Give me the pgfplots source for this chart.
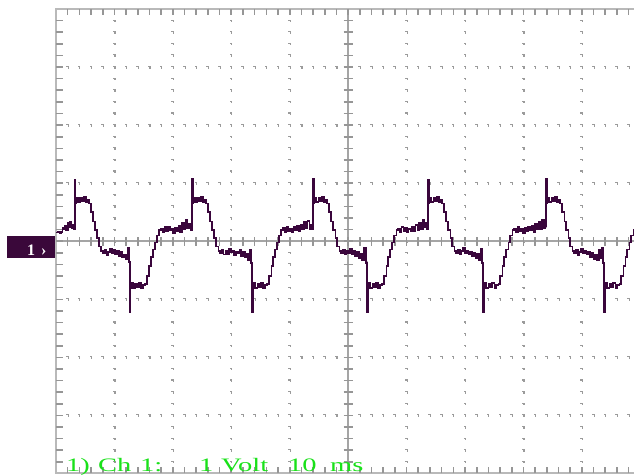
\documentclass[border=0pt]{standalone}
\usepackage{pgfplots}
\usepackage{pgfplotstable}
\pgfplotsset{compat=1.18}
\usepackage{fontspec}
\setmainfont{Liberation Serif}

\definecolor{tracec}{RGB}{58,6,60}
\definecolor{markc}{RGB}{58,8,58}
\definecolor{gridln}{RGB}{185,185,185}
\definecolor{gridax}{RGB}{165,165,165}
\definecolor{gridtk}{RGB}{150,150,150}
\definecolor{griddot}{RGB}{155,155,155}
\definecolor{scopegreen}{RGB}{25,225,25}

% Channel 1 capture: time in ms, voltage in V
\pgfplotstableread{
t v
0.00 0.15
0.30 0.17
0.60 0.14
0.90 0.16
1.10 0.23
1.30 0.20
1.55 0.26
1.75 0.19
2.00 0.31
2.20 0.24
2.45 0.33
2.65 0.22
2.90 0.29
3.10 0.21
3.25 0.24
3.25 1.05
3.35 0.66
3.45 0.75
3.75 0.67
4.15 0.74
4.45 0.69
4.75 0.76
5.15 0.67
5.45 0.72
5.65 0.65
5.95 0.50
6.35 0.34
6.65 0.19
7.05 0.05
7.35 -0.09
7.75 -0.17
8.05 -0.21
8.35 -0.15
8.65 -0.24
8.95 -0.18
9.25 -0.13
9.55 -0.20
9.85 -0.15
10.15 -0.22
10.45 -0.17
10.75 -0.26
11.05 -0.19
11.35 -0.28
11.65 -0.23
11.95 -0.31
12.25 -0.12
12.50 -0.36
12.67 -0.36
12.67 -1.22
12.77 -0.81
12.87 -0.72
13.17 -0.80
13.57 -0.74
13.87 -0.79
14.17 -0.72
14.57 -0.80
14.87 -0.75
15.27 -0.74
15.57 -0.60
15.97 -0.43
16.27 -0.27
16.57 -0.14
16.97 -0.02
17.27 0.10
17.67 0.19
17.97 0.22
18.27 0.15
18.57 0.24
18.87 0.17
19.17 0.25
19.47 0.19
19.77 0.21
20.07 0.14
20.37 0.23
20.67 0.18
20.97 0.27
21.27 0.16
21.57 0.31
21.87 0.20
22.17 0.36
22.47 0.22
22.77 0.30
23.07 0.19
23.29 0.24
23.29 1.07
23.39 0.66
23.49 0.75
23.79 0.67
24.19 0.74
24.49 0.69
24.79 0.76
25.19 0.67
25.49 0.72
25.69 0.65
25.99 0.50
26.39 0.34
26.69 0.19
27.09 0.05
27.39 -0.09
27.79 -0.17
28.09 -0.20
28.39 -0.14
28.69 -0.23
28.99 -0.17
29.29 -0.22
29.59 -0.13
29.89 -0.19
30.19 -0.16
30.49 -0.24
30.79 -0.18
31.09 -0.21
31.39 -0.15
31.69 -0.25
31.99 -0.19
32.29 -0.27
32.59 -0.22
32.89 -0.32
33.19 -0.14
33.40 -0.38
33.56 -0.36
33.56 -1.22
33.66 -0.81
33.76 -0.72
34.06 -0.80
34.46 -0.74
34.76 -0.79
35.06 -0.72
35.46 -0.80
35.76 -0.75
36.16 -0.74
36.46 -0.60
36.86 -0.43
37.16 -0.27
37.46 -0.14
37.86 -0.02
38.16 0.10
38.56 0.19
38.86 0.23
39.16 0.16
39.46 0.25
39.76 0.18
40.06 0.22
40.36 0.15
40.66 0.24
40.96 0.19
41.26 0.26
41.56 0.17
41.86 0.29
42.16 0.20
42.46 0.33
42.76 0.22
43.06 0.35
43.36 0.21
43.66 0.28
43.86 0.20
44.01 0.24
44.01 1.08
44.11 0.66
44.21 0.75
44.51 0.67
44.91 0.74
45.21 0.69
45.51 0.76
45.91 0.67
46.21 0.72
46.41 0.65
46.71 0.50
47.11 0.34
47.41 0.19
47.81 0.05
48.11 -0.09
48.51 -0.17
48.81 -0.21
49.11 -0.14
49.41 -0.23
49.71 -0.16
50.01 -0.20
50.31 -0.13
50.61 -0.22
50.91 -0.17
51.21 -0.25
51.51 -0.18
51.81 -0.29
52.11 -0.21
52.41 -0.33
52.71 -0.12
53.00 -0.37
53.25 -0.35
53.25 -1.22
53.35 -0.81
53.45 -0.72
53.75 -0.80
54.15 -0.74
54.45 -0.79
54.75 -0.72
55.15 -0.80
55.45 -0.75
55.85 -0.74
56.15 -0.60
56.55 -0.43
56.85 -0.27
57.15 -0.14
57.55 -0.02
57.85 0.10
58.25 0.19
58.55 0.22
58.85 0.16
59.15 0.24
59.45 0.18
59.75 0.23
60.05 0.15
60.35 0.21
60.65 0.17
60.95 0.25
61.25 0.18
61.55 0.28
61.85 0.19
62.15 0.32
62.45 0.21
62.75 0.36
63.05 0.24
63.35 0.31
63.55 0.20
63.70 0.25
63.70 1.06
63.80 0.66
63.90 0.75
64.20 0.67
64.60 0.74
64.90 0.69
65.20 0.76
65.60 0.67
65.90 0.72
66.10 0.65
66.40 0.50
66.80 0.34
67.10 0.19
67.50 0.05
67.80 -0.09
68.20 -0.17
68.50 -0.20
68.80 -0.15
69.10 -0.23
69.40 -0.17
69.70 -0.12
70.00 -0.21
70.30 -0.16
70.60 -0.23
70.90 -0.18
71.20 -0.26
71.50 -0.20
71.80 -0.29
72.10 -0.22
72.40 -0.32
72.70 -0.13
72.95 -0.37
73.12 -0.36
73.12 -1.22
73.22 -0.81
73.32 -0.72
73.62 -0.80
74.02 -0.74
74.32 -0.79
74.62 -0.72
75.02 -0.80
75.32 -0.75
75.72 -0.74
76.02 -0.60
76.42 -0.43
76.72 -0.27
77.02 -0.14
77.42 -0.02
77.72 0.10
78.12 0.19
78.42 0.22
78.72 0.15
79.02 0.24
79.32 0.18
79.62 0.21
79.92 0.14
80.22 0.23
80.52 0.17
80.82 0.25
81.12 0.19
81.42 0.27
81.72 0.16
82.02 0.30
82.32 0.21
82.62 0.34
82.92 0.20
83.22 0.37
83.52 0.22
83.75 0.29
83.90 0.24
83.90 1.08
84.00 0.66
84.10 0.75
84.40 0.67
84.80 0.74
85.10 0.69
85.40 0.76
85.80 0.67
86.10 0.72
86.30 0.65
86.60 0.50
87.00 0.34
87.30 0.19
87.70 0.05
88.00 -0.09
88.40 -0.17
88.70 -0.21
89.00 -0.15
89.30 -0.24
89.60 -0.18
89.90 -0.13
90.20 -0.21
90.50 -0.16
90.80 -0.23
91.10 -0.19
91.40 -0.27
91.70 -0.20
92.00 -0.30
92.30 -0.23
92.60 -0.33
92.90 -0.15
93.20 -0.29
93.45 -0.12
93.65 -0.37
93.84 -0.36
93.84 -1.22
93.94 -0.81
94.04 -0.72
94.34 -0.80
94.74 -0.74
95.04 -0.79
95.34 -0.72
95.74 -0.80
96.04 -0.75
96.44 -0.74
96.74 -0.60
97.14 -0.43
97.44 -0.27
97.74 -0.14
98.14 -0.02
98.44 0.10
98.84 0.19
99.14 0.22
99.50 0.16
}\chone

\begin{document}
\begin{tikzpicture}[x=1bp,y=1bp]
% graticule: 10 x 8 divisions, 5 minor steps each
\def\gxl{56}\def\gxr{640.3}\def\gyb{1.5}\def\gyt{466}
\pgfmathsetmacro\gcx{(\gxl+\gxr)/2}
\pgfmathsetmacro\gcy{(\gyb+\gyt)/2}
\pgfmathsetmacro\gdx{(\gxr-\gxl)/50}
\pgfmathsetmacro\gdy{(\gyt-\gyb)/40}

\fill[white] (0,0) rectangle (634,475);

% dotted major divisions (small corner-shaped dots)
\foreach \i in {1,2,3,4,6,7,8,9}{
  \foreach \k in {1,...,39}{
    \fill[griddot] ({\gxl+5*\i*\gdx-1.5},{\gyb+\k*\gdy}) rectangle ++(2.6,1.1);
    \fill[griddot] ({\gxl+5*\i*\gdx},{\gyb+\k*\gdy-1.5}) rectangle ++(1.1,2.6);
  }
}
\foreach \j in {1,2,3,5,6,7}{
  \foreach \k in {1,...,49}{
    \fill[griddot] ({\gxl+\k*\gdx-1.5},{\gyb+5*\j*\gdy}) rectangle ++(2.6,1.1);
    \fill[griddot] ({\gxl+\k*\gdx},{\gyb+5*\j*\gdy-1.5}) rectangle ++(1.1,2.6);
  }
}

% frame and centre axes
\draw[gridln, line width=2bp] (\gxl,\gyb) rectangle (\gxr,\gyt);
\draw[gridax, line width=1.6bp] (\gxl,\gcy) -- (\gxr,\gcy);
\draw[gridax, line width=1.6bp] (\gcx,\gyb) -- (\gcx,\gyt);

% minor ticks on frame and centre axes
\foreach \k in {1,...,49}{
  \draw[gridtk, line width=1.6bp] ({\gxl+\k*\gdx},\gyt) -- ++(0,-6.5);
  \draw[gridtk, line width=1.6bp] ({\gxl+\k*\gdx},\gyb) -- ++(0,6.5);
  \draw[gridtk, line width=1.6bp] ({\gxl+\k*\gdx},{\gcy-4.5}) -- ++(0,9);
}
\foreach \k in {1,...,39}{
  \draw[gridtk, line width=1.6bp] (\gxl,{\gyb+\k*\gdy}) -- ++(6.5,0);
  \draw[gridtk, line width=1.6bp] (\gxr,{\gyb+\k*\gdy}) -- ++(-6.5,0);
  \draw[gridtk, line width=1.6bp] ({\gcx-4.5},{\gyb+\k*\gdy}) -- ++(9,0);
}

\begin{axis}[
  at={(56bp,1.5bp)}, anchor=south west,
  scale only axis, width=584.3bp, height=464.5bp,
  xmin=0, xmax=100, ymin=-4, ymax=4,
  hide axis,
]
\addplot[tracec, line width=1.7bp, line join=miter, const plot] table[x=t, y=v] {\chone};
\end{axis}

% channel marker
\fill[markc] (7,217) rectangle (55,239);
\node[anchor=base west, inner sep=0, text=white, font=\fontsize{16bp}{18bp}\selectfont\bfseries] at (27,219.5) {1};
\node[anchor=base west, inner sep=0, text=white, font=\fontsize{16bp}{18bp}\selectfont\bfseries] at (41,219.5) {›};

% status line
\begin{scope}[every node/.style={anchor=base west, inner sep=0, text=scopegreen, font=\fontsize{19bp}{22bp}\selectfont}]
\node at (66,3) {\scalebox{1.5}[1]{1)}};
\node at (98,3) {\scalebox{1.5}[1]{Ch}};
\node at (140,3) {\scalebox{1.5}[1]{1:}};
\node at (199,3) {\scalebox{1.5}[1]{1}};
\node at (221,3) {\scalebox{1.5}[1]{Volt}};
\node at (288,3) {\scalebox{1.5}[1]{10}};
\node at (330,3) {\scalebox{1.5}[1]{ms}};
\end{scope}

\pgfresetboundingbox
\useasboundingbox (0,0) rectangle (634,475);
\end{tikzpicture}
\end{document}
